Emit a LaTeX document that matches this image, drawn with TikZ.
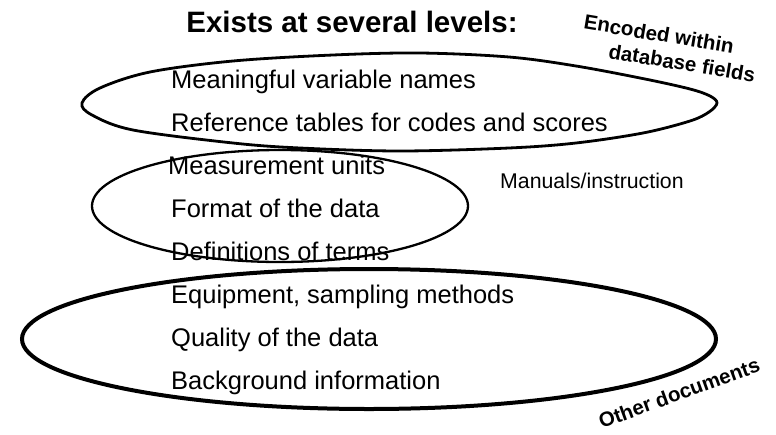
\documentclass[tikz,border=0pt]{standalone}
\usepackage{fontspec}
\setmainfont{Liberation Sans}
\begin{document}
\begin{tikzpicture}[x=1pt,y=-1pt,
  item/.style={anchor=base west,inner sep=0pt,font=\fontsize{25.5}{25.5}\selectfont},
  sidelabel/.style={inner sep=0pt,font=\fontsize{20.5}{20.5}\selectfont\bfseries},
  loop/.style={draw=black}]
\useasboundingbox (0,0) rectangle (776,434);
% title
\node[inner sep=0pt,anchor=base,font=\fontsize{29.5}{29.5}\selectfont\bfseries] (title) at (352,32) {Exists at several levels:};
% enclosing loops
\draw[loop,line width=2.8pt] plot[smooth cycle,tension=0.55] coordinates {
  (82,103) (100,88) (150,72) (233,61) (333,55) (420,53) (509,57) (576,66)
  (645,79) (690,89) (710,96) (717,103) (709,112) (690,121) (643,133) (576,143) (509,148)
  (400,151) (300,148) (233,143) (133,130) (92,115)};
\draw[loop,line width=2.3pt] (280,206) ellipse [x radius=188,y radius=56];
\draw[loop,line width=4pt] (369,339) ellipse [x radius=347,y radius=70];
% items
\node[item] (i1) at (171,88) {Meaningful variable names};
\node[item] (i2) at (171,131) {Reference tables for codes and scores};
\node[item] (i3) at (168,174) {Measurement units};
\node[item] (i4) at (171,217) {Format of the data};
\node[item] (i5) at (171,260) {Definitions of terms};
\node[item] (i6) at (171,303) {Equipment, sampling methods};
\node[item] (i7) at (171,346) {Quality of the data};
\node[item] (i8) at (171,389) {Background information};
% side labels
\node[inner sep=0pt,anchor=base west,font=\fontsize{21.3}{21.3}\selectfont] (man) at (500,188) {Manuals/instruction};
\node[sidelabel,rotate=-9.5] (enc1) at (659,34) {Encoded within};
\node[sidelabel,rotate=-9.5] (enc2) at (682,63) {database fields};
\node[sidelabel,rotate=20] (oth) at (679,393) {Other documents};
\end{tikzpicture}
\end{document}
